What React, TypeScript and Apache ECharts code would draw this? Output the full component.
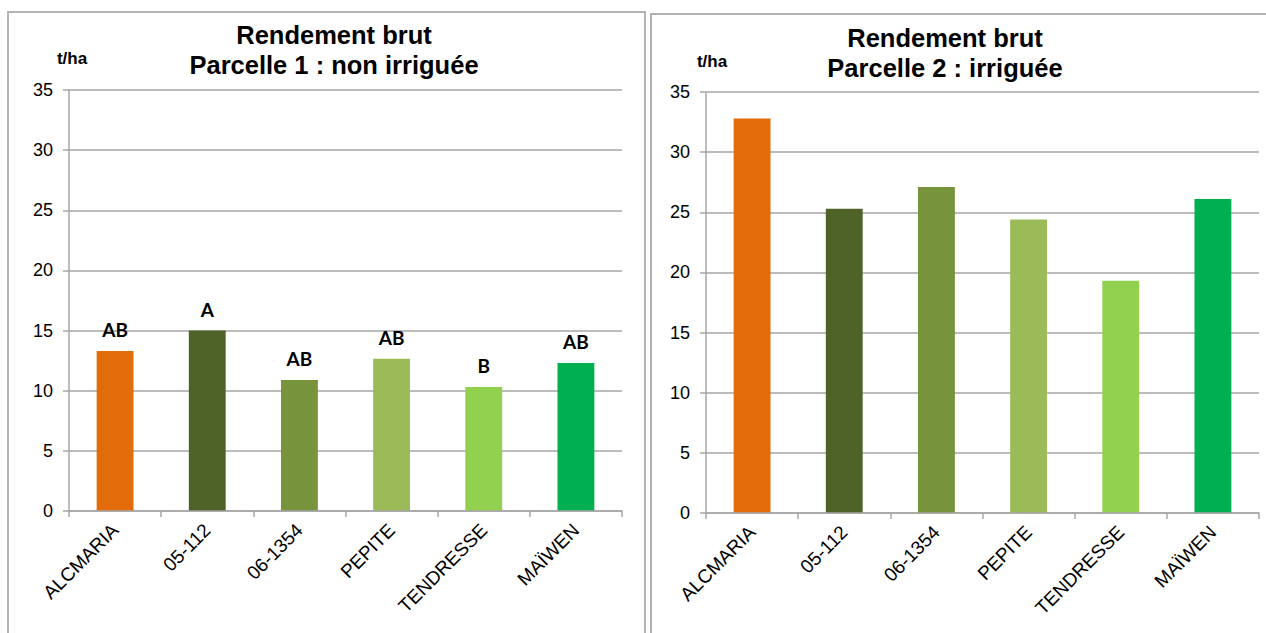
import React, { useEffect, useRef } from "react";
import * as echarts from "echarts";

const categories = ["ALCMARIA", "05-112", "06-1354", "PEPITE", "TENDRESSE", "MAÏWEN"];
const colors = ["#E36C0A", "#4F6228", "#77933C", "#9BBB59", "#92D050", "#00B050"];
const yieldNonIrrigated = [13.3, 15.0, 10.9, 12.65, 10.3, 12.3];
const groupLetters = ["AB", "A", "AB", "AB", "B", "AB"];
const yieldIrrigated = [32.8, 25.3, 27.1, 24.4, 19.3, 26.1];
const yTicks = [0, 5, 10, 15, 20, 25, 30, 35];

const titleLeft = ["Rendement brut", "Parcelle 1 : non irriguée"];
const titleRight = ["Rendement brut", "Parcelle 2 : irriguée"];
const unit = "t/ha";

const FONT = "Arial, 'Liberation Sans', sans-serif";
const GRID = "#a6a6a6";

export default function App() {
  const ref = useRef<HTMLDivElement>(null);
  useEffect(() => {
    if (!ref.current) return;
    const chart = echarts.init(ref.current, null, { renderer: "svg" });
    const xAxisBase = (gridIndex: number) => ({
      type: "category" as const,
      gridIndex,
      data: categories,
      boundaryGap: true,
      axisLine: { show: true, lineStyle: { color: GRID, width: 1.5 } },
      axisTick: { show: true, length: 6, inside: false, lineStyle: { color: GRID, width: 1.5 } },
      axisLabel: {
        rotate: 45,
        margin: 16,
        interval: 0,
        color: "#000",
        fontFamily: FONT,
        fontSize: 19,
      },
      z: 5,
    });
    const yAxisBase = (gridIndex: number) => ({
      type: "value" as const,
      gridIndex,
      min: yTicks[0],
      max: yTicks[yTicks.length - 1],
      interval: 5,
      axisLine: { show: true, lineStyle: { color: GRID, width: 1.5 } },
      axisTick: { show: true, length: 6, lineStyle: { color: GRID, width: 1.5 } },
      splitLine: { show: true, lineStyle: { color: GRID, width: 1.5 } },
      axisLabel: { color: "#000", fontFamily: FONT, fontSize: 18, margin: 16 },
    });
    const barData = (vals: number[]) =>
      vals.map((v, i) => ({ value: v, itemStyle: { color: colors[i] } }));

    const titleText = (lines: string[], cx: number, y0: number) =>
      lines.map((t, i) => ({
        type: "text",
        x: cx,
        y: y0 + i * 30,
        style: {
          text: t,
          fill: "#000",
          font: `bold 25.5px ${FONT}`,
          textAlign: "center",
          textVerticalAlign: "middle",
        },
      }));

    const unitText = (x: number, y: number) => ({
      type: "text",
      x,
      y,
      style: { text: unit, fill: "#000", font: `bold 17px ${FONT}`, textAlign: "center", textVerticalAlign: "middle" },
    });

    chart.setOption({
      animation: false,
      backgroundColor: "#fff",
      grid: [
        { left: 69, top: 90, width: 553, height: 421 },
        { left: 706, top: 92, width: 553, height: 421 },
      ],
      xAxis: [xAxisBase(0), xAxisBase(1)],
      yAxis: [yAxisBase(0), yAxisBase(1)],
      series: [
        {
          type: "bar",
          xAxisIndex: 0,
          yAxisIndex: 0,
          barWidth: "40%",
          data: barData(yieldNonIrrigated),
          label: {
            show: true,
            position: "top",
            distance: 12,
            formatter: (p: any) => groupLetters[p.dataIndex],
            color: "#000",
            fontFamily: "Lato, 'Open Sans', sans-serif",
            fontWeight: "bold",
            fontSize: 19,
          },
        },
        {
          type: "bar",
          xAxisIndex: 1,
          yAxisIndex: 1,
          barWidth: "40%",
          data: barData(yieldIrrigated),
        },
      ],
      graphic: [
        {
          type: "rect",
          shape: { x: 8, y: 12, width: 637, height: 700 },
          style: { fill: "none", stroke: "#b3b3b3", lineWidth: 2 },
          silent: true,
        },
        {
          type: "rect",
          shape: { x: 651, y: 14, width: 700, height: 700 },
          style: { fill: "none", stroke: "#999", lineWidth: 1.5 },
          silent: true,
        },
        ...titleText(titleLeft, 334, 35),
        ...titleText(titleRight, 945, 38),
        unitText(72, 58),
        unitText(712, 61),
      ],
    });
    return () => chart.dispose();
  }, []);
  return (
    <div
      ref={ref}
      style={{ position: "fixed", left: 0, top: 0, width: 1266, height: 633, background: "#fff" }}
    />
  );
}
